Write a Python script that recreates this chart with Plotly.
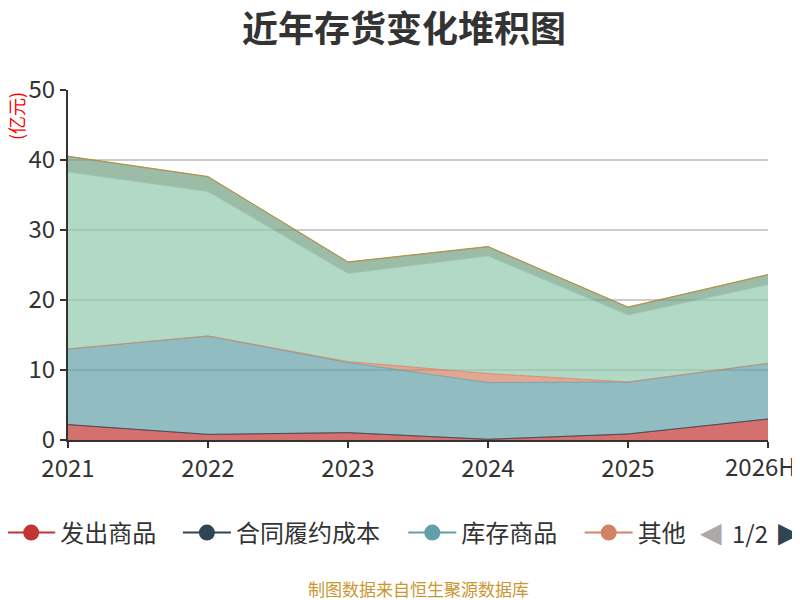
import plotly.graph_objects as go

# Inventory breakdown, unit: 亿元
years = ["2021", "2022", "2023", "2024", "2025", "2026H"]

shipped_goods = [2.2, 0.8, 1.05, 0.1, 0.86, 3.0]       # 发出商品
contract_cost = [0.0, 0.0, 0.0, 0.0, 0.0, 0.0]         # 合同履约成本
stock_goods = [10.8, 14.06, 10.0, 8.1, 7.42, 7.95]     # 库存商品
other = [0.0, 0.0, 0.15, 1.3, 0.0, 0.0]                # 其他
raw_material = [25.3, 20.64, 12.6, 16.8, 9.58, 11.25]  # 原材料
in_process = [2.2, 2.1, 1.6, 1.3, 1.1, 1.4]            # 在产品
turnover_mat = [0.05, 0.05, 0.05, 0.05, 0.05, 0.05]    # 周转材料

series_names = ["发出商品", "合同履约成本", "库存商品", "其他", "原材料", "在产品", "周转材料"]
series_values = [shipped_goods, contract_cost, stock_goods, other, raw_material, in_process, turnover_mat]
colors = ["#c23531", "#2f4554", "#61a0a8", "#d48265", "#91c7ae", "#749f83", "#ca8622"]

# legend shows page 1 only (first four series), each entry in its own legend box
legend_ids = ["legend", "legend2", "legend3", "legend4"]
legend_x = [-0.094, 0.157, 0.479, 0.731]


def hex_to_rgba(hex_color, alpha):
    """Turn a #rrggbb colour into an rgba() string."""
    r = int(hex_color[1:3], 16)
    g = int(hex_color[3:5], 16)
    b = int(hex_color[5:7], 16)
    return f"rgba({r},{g},{b},{alpha})"


fig = go.Figure()

# Stacked areas
for name, values, color in zip(series_names, series_values, colors):
    fig.add_trace(go.Scatter(
        x=years, y=values, name=name, mode="lines",
        stackgroup="inv",
        line=dict(color=hex_to_rgba(color, 0.8), width=1),
        fillcolor=hex_to_rgba(color, 0.7),
        showlegend=False, hoverinfo="x+y+name"))

# Legend-only entries (line + dot symbol like the original)
for i, leg in enumerate(legend_ids):
    fig.add_trace(go.Scatter(
        x=[None], y=[None], name=series_names[i], mode="lines+markers",
        line=dict(color=colors[i], width=2),
        marker=dict(color=colors[i], size=16),
        showlegend=True, legend=leg))

font_family = "Noto Sans CJK SC, Open Sans, sans-serif"

# last category label is pulled inside the chart, as in the original
tick_text = years[:-1] + [""]

fig.update_layout(
    width=792, height=592,
    margin=dict(l=60, r=32, t=82, b=160, autoexpand=False),
    paper_bgcolor="white", plot_bgcolor="white",
    font=dict(family=font_family, color="#333333"),
    title=dict(text="<b>近年存货变化堆积图</b>", x=0.5, xanchor="center",
               y=0.964, yanchor="middle",
               font=dict(size=36, color="#333333", family=font_family)),
    showlegend=True,
    xaxis=dict(type="category", range=[0, 5], showgrid=False,
               tickmode="array", tickvals=years, ticktext=tick_text,
               showline=True, linecolor="#333333", linewidth=2,
               ticks="outside", ticklen=6, tickwidth=2, tickcolor="#333333",
               tickfont=dict(size=24, color="#333333"), fixedrange=True),
    yaxis=dict(range=[0, 50], dtick=10, showgrid=True, gridcolor="#cccccc", gridwidth=1.5,
               showline=True, linecolor="#333333", linewidth=2,
               ticks="outside", ticklen=6, tickwidth=2, tickcolor="#333333",
               tickfont=dict(size=24, color="#333333"), zeroline=False, fixedrange=True),
)

for leg, lx in zip(legend_ids, legend_x):
    fig.update_layout({leg: dict(orientation="h", x=lx, xanchor="left", y=-0.2657, yanchor="middle",
                                 font=dict(size=24, color="#333333"), itemwidth=48,
                                 bgcolor="rgba(0,0,0,0)")})

# 2026H tick label, nudged left so it stays inside the page
fig.add_annotation(text=years[-1], xref="x", yref="paper", x=years[-1], y=0,
                   xshift=-8, yshift=-6, showarrow=False, xanchor="center", yanchor="top",
                   font=dict(size=24, color="#333333", family=font_family))

# Unit label on the y axis
fig.add_annotation(text="(亿元)", xref="paper", yref="paper", x=-0.0743, y=0.9257,
                   textangle=-90, showarrow=False, xanchor="center", yanchor="middle",
                   font=dict(size=18, color="#ff0000", family=font_family))

# Legend pager  ◀ 1/2 ▶
fig.add_annotation(text="◀", xref="paper", yref="paper", x=0.9186, y=-0.2657,
                   showarrow=False, xanchor="center", yanchor="middle",
                   font=dict(size=28, color="#aaaaaa", family="DejaVu Sans"))
fig.add_annotation(text="1/2", xref="paper", yref="paper", x=0.974, y=-0.2657,
                   showarrow=False, xanchor="center", yanchor="middle",
                   font=dict(size=24, color="#333333", family=font_family))
fig.add_annotation(text="▶", xref="paper", yref="paper", x=1.03, y=-0.2657,
                   showarrow=False, xanchor="center", yanchor="middle",
                   font=dict(size=28, color="#2f4554", family="DejaVu Sans"))

# Data source note
fig.add_annotation(text="制图数据来自恒生聚源数据库", xref="paper", yref="paper",
                   x=0.5, y=-0.4257, showarrow=False, xanchor="center", yanchor="middle",
                   font=dict(size=17, color="#c9972f", family=font_family))

fig.write_html("out.html")
